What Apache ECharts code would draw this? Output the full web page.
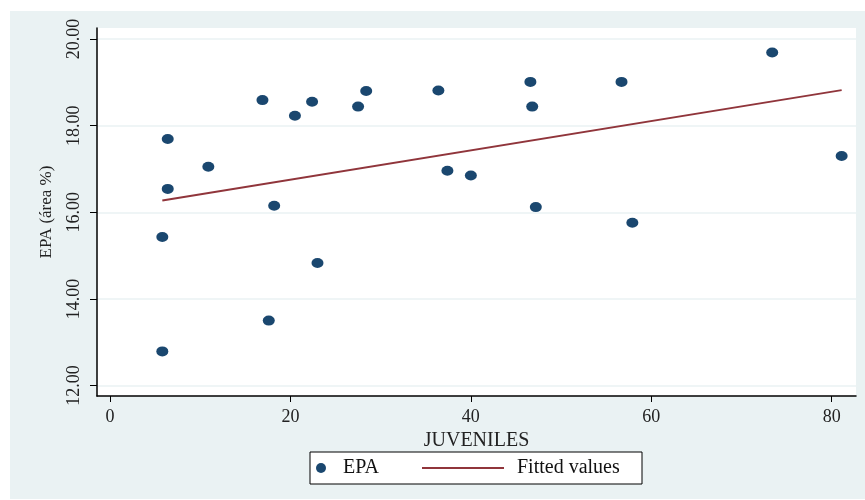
<!DOCTYPE html>
<html>
<head>
<meta charset="utf-8">
<script src="https://cdn.jsdelivr.net/npm/echarts@6/dist/echarts.min.js"></script>
<style>
  html, body { margin: 0; padding: 0; background: #fff; }
  #chart { width: 865px; height: 500px; }
</style>
</head>
<body>
<div id="chart"></div>
<script>
// JUVENILES (x) vs EPA (área %) (y)
const juveniles = [5.8, 5.8, 6.4, 6.4, 10.9, 16.9, 17.6, 18.2, 20.5, 22.4, 23.0, 27.5,
  28.4, 36.4, 37.4, 40.0, 46.6, 46.8, 47.2, 56.7, 57.9, 73.4, 81.1]
const epa = [15.43, 12.79, 17.69, 16.54, 17.05, 18.59, 13.50, 16.15, 18.23, 18.55, 14.83, 18.44,
  18.80, 18.81, 16.96, 16.85, 19.01, 18.44, 16.12, 19.01, 15.76, 19.69, 17.30]

// fitted line end points
const fitX = [5.8, 81.1]
const fitY = [16.27, 18.82]

const xTicks = [0, 20, 40, 60, 80]
const yTicks = [12, 14, 16, 18, 20]

const navy = '#1a476f'
const maroon = '#90353b'
const paleBg = '#eaf2f3'
const serif = 'Liberation Serif'

const chart = echarts.init(document.getElementById('chart'))

chart.setOption({
  animation: false,
  backgroundColor: '#fff',
  textStyle: { fontFamily: serif },
  grid: {
    left: 97, right: 9, top: 28, bottom: 104,
    show: true,
    backgroundColor: '#fff',
    borderWidth: 0
  },
  graphic: [{
    type: 'rect',
    z: -10,
    shape: { x: 10, y: 11, width: 855, height: 488 },
    style: { fill: paleBg }
  }, {
    type: 'rect',
    z: 1,
    shape: { x: 310, y: 452, width: 332, height: 32 },
    style: { fill: '#fff', stroke: '#000', lineWidth: 1 }
  }],
  legend: [{
    data: ['EPA'],
    left: 316, top: 458,
    padding: 0,
    selectedMode: false,
    icon: 'circle',
    itemWidth: 12, itemHeight: 10,
    textStyle: { fontFamily: serif, fontSize: 20, color: '#111', padding: [0, 0, 0, 11] }
  }, {
    data: [{ name: 'Fitted values', icon: 'rect' }],
    left: 422, top: 458,
    padding: 0,
    selectedMode: false,
    itemWidth: 82, itemHeight: 2,
    textStyle: { fontFamily: serif, fontSize: 20, color: '#111', padding: [0, 0, 0, 8] }
  }],
  xAxis: {
    type: 'value',
    min: -1.44, max: 82.69,
    name: 'JUVENILES',
    nameLocation: 'middle',
    nameGap: 28,
    nameTextStyle: { fontFamily: serif, fontSize: 20, color: '#222' },
    axisLine: { show: true, onZero: false, lineStyle: { color: '#000', width: 1.5 } },
    axisTick: { show: true, length: 6, customValues: xTicks, lineStyle: { color: '#000' } },
    axisLabel: { customValues: xTicks, margin: 12, fontFamily: serif, fontSize: 18, color: '#222' },
    splitLine: { show: false }
  },
  yAxis: {
    type: 'value',
    min: 11.76, max: 20.254,
    name: 'EPA (área %)',
    nameLocation: 'middle',
    nameGap: 42,
    nameTextStyle: { fontFamily: serif, fontSize: 17, color: '#222' },
    axisLine: { show: true, onZero: false, lineStyle: { color: '#000', width: 1.5 } },
    axisTick: { show: true, length: 7, customValues: yTicks, lineStyle: { color: '#000' } },
    axisLabel: {
      customValues: yTicks,
      rotate: 90,
      margin: 14,
      fontFamily: serif, fontSize: 18, color: '#222',
      formatter: v => v.toFixed(2)
    },
    splitLine: { show: true, lineStyle: { color: paleBg, width: 1.5 } }
  },
  series: [{
    name: 'EPA',
    type: 'scatter',
    symbol: 'circle',
    symbolSize: [12, 10],
    itemStyle: { color: navy, opacity: 1 },
    data: juveniles.map((x, i) => [x, epa[i]])
  }, {
    name: 'Fitted values',
    type: 'line',
    showSymbol: false,
    itemStyle: { color: maroon },
    lineStyle: { color: maroon, width: 2 },
    data: fitX.map((x, i) => [x, fitY[i]])
  }]
})
</script>
</body>
</html>
